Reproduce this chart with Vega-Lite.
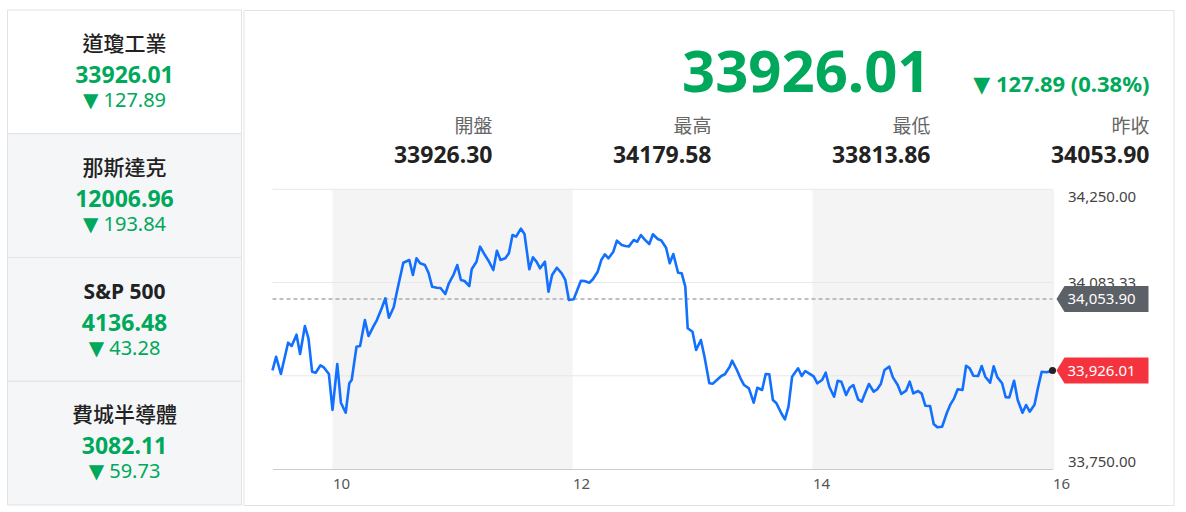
{
  "$schema": "https://vega.github.io/schema/vega-lite/v6.json",
  "padding": {"left": 6.5, "top": 9, "right": 0, "bottom": 0},
  "background": "#ffffff",
  "spacing": 0,
  "config": {"view": {"stroke": null}, "font": "Noto Sans"},
  "hconcat": [
    {
      "width": 234,
      "height": 495,
      "data": {"values": [
        {"name": "道瓊工業", "price": "33926.01", "change": "▼ 127.89"},
        {"name": "那斯達克", "price": "12006.96", "change": "▼ 193.84"},
        {"name": "S&P 500", "price": "4136.48", "change": "▼ 43.28"},
        {"name": "費城半導體", "price": "3082.11", "change": "▼ 59.73"}
      ]},
      "layer": [
        {
          "mark": {"type": "rect", "stroke": "#e1e3e6", "strokeWidth": 1},
          "encoding": {
            "y": {"field": "name", "type": "nominal", "scale": {"type": "band", "domain": ["道瓊工業", "那斯達克", "S&P 500", "費城半導體"], "paddingInner": 0, "paddingOuter": 0}, "axis": null},
            "x": {"datum": 0, "type": "quantitative", "scale": {"domain": [0, 1], "nice": false}, "axis": null},
            "x2": {"datum": 1},
            "fill": {"condition": {"test": "datum.name === '道瓊工業'", "value": "#ffffff"}, "value": "#f5f6f8"}
          }
        },
        {
          "transform": [{"filter": "datum.name !== 'S&P 500'"}],
          "mark": {"type": "text", "fontSize": 21, "fontWeight": 500, "color": "#222222", "baseline": "middle", "align": "center", "font": "'Noto Sans CJK TC'"},
          "encoding": {
            "y": {"field": "name", "type": "nominal", "bandPosition": 0.283, "scale": {"type": "band", "domain": ["道瓊工業", "那斯達克", "S&P 500", "費城半導體"], "paddingInner": 0, "paddingOuter": 0}, "axis": null},
            "x": {"datum": 0.5, "type": "quantitative"},
            "text": {"field": "name"}
          }
        },
        {
          "transform": [{"filter": "datum.name === 'S&P 500'"}],
          "mark": {"type": "text", "fontSize": 21, "fontWeight": "bold", "color": "#222222", "baseline": "middle", "align": "center"},
          "encoding": {
            "y": {"field": "name", "type": "nominal", "bandPosition": 0.283, "scale": {"type": "band", "domain": ["道瓊工業", "那斯達克", "S&P 500", "費城半導體"], "paddingInner": 0, "paddingOuter": 0}, "axis": null},
            "x": {"datum": 0.5, "type": "quantitative"},
            "text": {"field": "name"}
          }
        },
        {
          "mark": {"type": "text", "fontSize": 23, "fontWeight": "bold", "color": "#00a85b", "baseline": "alphabetic", "align": "center"},
          "encoding": {
            "y": {"field": "name", "type": "nominal", "bandPosition": 0.59, "scale": {"type": "band", "domain": ["道瓊工業", "那斯達克", "S&P 500", "費城半導體"], "paddingInner": 0, "paddingOuter": 0}, "axis": null},
            "x": {"datum": 0.5, "type": "quantitative"},
            "text": {"field": "price"}
          }
        },
        {
          "mark": {"type": "text", "fontSize": 20, "color": "#00a85b", "baseline": "alphabetic", "align": "center", "font": "'Noto Sans', 'DejaVu Sans'"},
          "encoding": {
            "y": {"field": "name", "type": "nominal", "bandPosition": 0.785, "scale": {"type": "band", "domain": ["道瓊工業", "那斯達克", "S&P 500", "費城半導體"], "paddingInner": 0, "paddingOuter": 0}, "axis": null},
            "x": {"datum": 0.5, "type": "quantitative"},
            "text": {"field": "change"}
          }
        }
      ]
    },
    {
      "width": 930,
      "height": 495,
      "view": {"stroke": "#e1e3e6"},
      "resolve": {"scale": {"x": "independent", "y": "independent"}},
      "layer": [
        {
          "layer": [
            {
              "data": {"values": [{"s": 10, "e": 12}, {"s": 14, "e": 16}]},
              "mark": {"type": "rect", "color": "#f4f4f4"},
              "encoding": {
                "x": {"field": "s", "type": "quantitative", "scale": {"domain": [9.5, 16], "range": [29, 809], "nice": false, "zero": false},
                  "axis": {"orient": "bottom", "offset": -36, "values": [10, 12, 14, 16], "format": "d", "labelAlign": "left", "labelBaseline": "top", "labelFontSize": 15, "labelColor": "#555555", "ticks": false, "labelPadding": 7, "domainColor": "#cccccc", "grid": false, "title": null, "labelFlush": false, "labelBound": false, "labelOverlap": false}},
                "x2": {"field": "e"},
                "y": {"datum": 33750, "type": "quantitative", "scale": {"domain": [33750, 34250], "range": [459, 179.3], "nice": false, "zero": false},
                  "axis": {"orient": "right", "offset": -121, "values": [33750, 33916.67, 34083.33, 34250], "format": ",.2f", "labelFlush": true, "ticks": false, "labelPadding": 15, "labelFontSize": 15, "labelColor": "#444444", "domainColor": "#e6e6e6", "grid": false, "title": null, "labelOverlap": false}},
                "y2": {"datum": 34250}
              }
            },
            {
              "data": {"values": [{"g": 34250}, {"g": 34083.33}, {"g": 33916.67}]},
              "mark": {"type": "rule", "color": "#e8e8e8", "strokeWidth": 1},
              "encoding": {
                "y": {"field": "g", "type": "quantitative"},
                "x": {"datum": 9.5, "type": "quantitative"},
                "x2": {"datum": 16}
              }
            },
            {
              "data": {"values": [{"prev": 34053.9}]},
              "mark": {"type": "rule", "color": "#aaaaaa", "strokeDash": [4, 3], "strokeWidth": 1.5},
              "encoding": {
                "y": {"field": "prev", "type": "quantitative"},
                "x": {"datum": 9.5, "type": "quantitative"},
                "x2": {"datum": 16}
              }
            },
            {
              "data": {"values": [
                {"t": 9.5, "v": 33926.3}, {"t": 9.53, "v": 33950.7}, {"t": 9.57, "v": 33919.8}, {"t": 9.63, "v": 33975.8}, {"t": 9.66, "v": 33969.9}, {"t": 9.7, "v": 33990.1}, {"t": 9.73, "v": 33955.6}, {"t": 9.77, "v": 34005.6}, {"t": 9.8, "v": 33982.9}, {"t": 9.83, "v": 33923.9}, {"t": 9.86, "v": 33922.1}, {"t": 9.9, "v": 33935.4}, {"t": 9.93, "v": 33931.1}, {"t": 9.97, "v": 33919.8},
                {"t": 10.0, "v": 33855.5}, {"t": 10.04, "v": 33937.7}, {"t": 10.07, "v": 33868.5}, {"t": 10.11, "v": 33850.6}, {"t": 10.14, "v": 33903.2}, {"t": 10.16, "v": 33909.1}, {"t": 10.2, "v": 33968.6}, {"t": 10.23, "v": 33969.9}, {"t": 10.27, "v": 34016.3}, {"t": 10.3, "v": 33987.7}, {"t": 10.34, "v": 34004.4}, {"t": 10.37, "v": 34016.3}, {"t": 10.41, "v": 34037.3}, {"t": 10.44, "v": 34055.1}, {"t": 10.47, "v": 34020.5}, {"t": 10.51, "v": 34039.1}, {"t": 10.54, "v": 34070.0}, {"t": 10.59, "v": 34118.8}, {"t": 10.64, "v": 34123.6}, {"t": 10.67, "v": 34096.8}, {"t": 10.7, "v": 34126.6}, {"t": 10.73, "v": 34117.7}, {"t": 10.77, "v": 34114.7}, {"t": 10.8, "v": 34100.9}, {"t": 10.83, "v": 34075.9}, {"t": 10.87, "v": 34074.1}, {"t": 10.9, "v": 34073.5}, {"t": 10.94, "v": 34062.8}, {"t": 10.97, "v": 34082.0},
                {"t": 11.01, "v": 34098.0}, {"t": 11.04, "v": 34114.7}, {"t": 11.07, "v": 34087.9}, {"t": 11.1, "v": 34086.1}, {"t": 11.14, "v": 34077.1}, {"t": 11.16, "v": 34107.0}, {"t": 11.2, "v": 34120.6}, {"t": 11.23, "v": 34147.4}, {"t": 11.27, "v": 34132.5}, {"t": 11.3, "v": 34122.4}, {"t": 11.34, "v": 34105.7}, {"t": 11.37, "v": 34140.2}, {"t": 11.4, "v": 34123.6}, {"t": 11.44, "v": 34126.6}, {"t": 11.47, "v": 34135.6}, {"t": 11.5, "v": 34168.3}, {"t": 11.53, "v": 34165.3}, {"t": 11.57, "v": 34179.6}, {"t": 11.6, "v": 34170.1}, {"t": 11.64, "v": 34107.0}, {"t": 11.67, "v": 34128.4}, {"t": 11.7, "v": 34120.6}, {"t": 11.73, "v": 34108.8}, {"t": 11.77, "v": 34120.6}, {"t": 11.8, "v": 34066.9}, {"t": 11.83, "v": 34096.8}, {"t": 11.87, "v": 34109.8}, {"t": 11.91, "v": 34099.8}, {"t": 11.94, "v": 34087.9}, {"t": 11.97, "v": 34052.1},
                {"t": 12.01, "v": 34053.4}, {"t": 12.04, "v": 34070.0}, {"t": 12.07, "v": 34086.6}, {"t": 12.1, "v": 34086.1}, {"t": 12.14, "v": 34083.0}, {"t": 12.17, "v": 34089.1}, {"t": 12.21, "v": 34102.7}, {"t": 12.24, "v": 34123.6}, {"t": 12.27, "v": 34133.8}, {"t": 12.3, "v": 34126.6}, {"t": 12.34, "v": 34138.4}, {"t": 12.37, "v": 34158.1}, {"t": 12.41, "v": 34150.4}, {"t": 12.44, "v": 34148.6}, {"t": 12.47, "v": 34148.0}, {"t": 12.51, "v": 34159.4}, {"t": 12.54, "v": 34156.3}, {"t": 12.57, "v": 34168.3}, {"t": 12.6, "v": 34160.6}, {"t": 12.64, "v": 34152.2}, {"t": 12.67, "v": 34169.6}, {"t": 12.71, "v": 34161.2}, {"t": 12.74, "v": 34158.6}, {"t": 12.78, "v": 34145.6}, {"t": 12.81, "v": 34117.7}, {"t": 12.84, "v": 34134.3}, {"t": 12.88, "v": 34100.9}, {"t": 12.91, "v": 34099.8}, {"t": 12.94, "v": 34075.9}, {"t": 12.96, "v": 34001.5},
                {"t": 13.0, "v": 33995.4}, {"t": 13.03, "v": 33962.7}, {"t": 13.07, "v": 33980.6}, {"t": 13.1, "v": 33950.7}, {"t": 13.14, "v": 33903.2}, {"t": 13.17, "v": 33902.6}, {"t": 13.21, "v": 33910.3}, {"t": 13.24, "v": 33916.2}, {"t": 13.27, "v": 33919.3}, {"t": 13.31, "v": 33932.9}, {"t": 13.33, "v": 33943.6}, {"t": 13.37, "v": 33927.0}, {"t": 13.4, "v": 33912.1}, {"t": 13.43, "v": 33900.1}, {"t": 13.47, "v": 33894.2}, {"t": 13.51, "v": 33868.5}, {"t": 13.54, "v": 33895.3}, {"t": 13.58, "v": 33891.2}, {"t": 13.61, "v": 33919.8}, {"t": 13.64, "v": 33919.2}, {"t": 13.67, "v": 33873.3}, {"t": 13.7, "v": 33867.4}, {"t": 13.74, "v": 33849.6}, {"t": 13.77, "v": 33838.8}, {"t": 13.8, "v": 33861.4}, {"t": 13.83, "v": 33915.0}, {"t": 13.88, "v": 33930.0}, {"t": 13.91, "v": 33916.2}, {"t": 13.94, "v": 33925.2}, {"t": 13.97, "v": 33921.1},
                {"t": 14.01, "v": 33915.5}, {"t": 14.04, "v": 33903.2}, {"t": 14.08, "v": 33909.1}, {"t": 14.11, "v": 33922.1}, {"t": 14.14, "v": 33897.1}, {"t": 14.18, "v": 33879.2}, {"t": 14.21, "v": 33907.8}, {"t": 14.24, "v": 33906.1}, {"t": 14.28, "v": 33882.3}, {"t": 14.31, "v": 33895.3}, {"t": 14.34, "v": 33900.1}, {"t": 14.38, "v": 33874.6}, {"t": 14.41, "v": 33870.3}, {"t": 14.44, "v": 33886.4}, {"t": 14.47, "v": 33901.9}, {"t": 14.51, "v": 33888.2}, {"t": 14.54, "v": 33892.5}, {"t": 14.57, "v": 33902.5}, {"t": 14.6, "v": 33927.0}, {"t": 14.64, "v": 33932.9}, {"t": 14.67, "v": 33913.9}, {"t": 14.71, "v": 33900.1}, {"t": 14.74, "v": 33884.1}, {"t": 14.78, "v": 33890.0}, {"t": 14.81, "v": 33906.1}, {"t": 14.84, "v": 33885.3}, {"t": 14.88, "v": 33889.5}, {"t": 14.91, "v": 33884.8}, {"t": 14.94, "v": 33863.1}, {"t": 14.98, "v": 33862.6},
                {"t": 15.01, "v": 33830.4}, {"t": 15.04, "v": 33824.5}, {"t": 15.08, "v": 33825.6}, {"t": 15.12, "v": 33850.6}, {"t": 15.15, "v": 33865.6}, {"t": 15.18, "v": 33876.4}, {"t": 15.21, "v": 33892.5}, {"t": 15.25, "v": 33891.2}, {"t": 15.28, "v": 33934.6}, {"t": 15.31, "v": 33930.0}, {"t": 15.34, "v": 33916.8}, {"t": 15.38, "v": 33916.3}, {"t": 15.41, "v": 33934.1}, {"t": 15.44, "v": 33915.0}, {"t": 15.48, "v": 33904.3}, {"t": 15.51, "v": 33933.5}, {"t": 15.54, "v": 33914.2}, {"t": 15.58, "v": 33903.2}, {"t": 15.61, "v": 33878.2}, {"t": 15.64, "v": 33878.0}, {"t": 15.68, "v": 33907.8}, {"t": 15.71, "v": 33873.3}, {"t": 15.75, "v": 33850.6}, {"t": 15.78, "v": 33864.4}, {"t": 15.81, "v": 33852.4}, {"t": 15.85, "v": 33865.0}, {"t": 15.88, "v": 33896.0}, {"t": 15.91, "v": 33923.9}, {"t": 15.95, "v": 33922.9}, {"t": 15.98, "v": 33924.5}, {"t": 16.0, "v": 33926.01}
              ]},
              "mark": {"type": "line", "color": "#1270ff", "strokeWidth": 2.6, "strokeJoin": "round"},
              "encoding": {
                "x": {"field": "t", "type": "quantitative"},
                "y": {"field": "v", "type": "quantitative"}
              }
            },
            {
              "data": {"values": [{"t": 16, "v": 33926.01}]},
              "mark": {"type": "point", "filled": true, "color": "#222222", "size": 50, "opacity": 1},
              "encoding": {
                "x": {"field": "t", "type": "quantitative"},
                "y": {"field": "v", "type": "quantitative"}
              }
            },
            {
              "data": {"values": [
                {"t": 16, "v": 34053.9, "label": "34,053.90", "kind": "prev"},
                {"t": 16, "v": 33926.01, "label": "33,926.01", "kind": "last"}
              ]},
              "layer": [
                {
                  "mark": {"type": "point", "filled": true, "opacity": 1, "size": 40000, "shape": "M0.04,0 L0.12,-0.13 L0.96,-0.13 L0.96,0.13 L0.12,0.13 Z"},
                  "encoding": {
                    "x": {"field": "t", "type": "quantitative"},
                    "y": {"field": "v", "type": "quantitative"},
                    "fill": {"condition": {"test": "datum.kind === 'prev'", "value": "#5c6167"}, "value": "#f5333f"}
                  }
                },
                {
                  "mark": {"type": "text", "align": "left", "baseline": "middle", "dx": 15, "fontSize": 15, "color": "#ffffff"},
                  "encoding": {
                    "x": {"field": "t", "type": "quantitative"},
                    "y": {"field": "v", "type": "quantitative"},
                    "text": {"field": "label"}
                  }
                }
              ]
            }
          ]
        },
        {
          "data": {"values": [
            {"label": "開盤", "value": "33926.30"},
            {"label": "最高", "value": "34179.58"},
            {"label": "最低", "value": "33813.86"},
            {"label": "昨收", "value": "34053.90"}
          ]},
          "layer": [
            {
              "mark": {"type": "text", "align": "right", "baseline": "alphabetic", "fontSize": 19, "color": "#666666", "font": "'Noto Sans CJK TC'", "dy": 5.5},
              "encoding": {
                "x": {"field": "label", "type": "nominal", "scale": {"type": "point", "domain": ["開盤", "最高", "最低", "昨收"], "range": [249, 906], "padding": 0}, "axis": null},
                "y": {"datum": "label", "type": "nominal", "scale": {"type": "point", "domain": ["price", "label", "value"], "range": [82, 153], "padding": 0}, "axis": null},
                "text": {"field": "label"}
              }
            },
            {
              "mark": {"type": "text", "align": "right", "baseline": "alphabetic", "fontSize": 23, "fontWeight": "bold", "color": "#222222"},
              "encoding": {
                "x": {"field": "label", "type": "nominal"},
                "y": {"datum": "value", "type": "nominal"},
                "text": {"field": "value"}
              }
            },
            {
              "data": {"values": [{"price": "33926.01", "chg": "▼ 127.89 (0.38%)"}]},
              "mark": {"type": "text", "align": "right", "baseline": "alphabetic", "fontSize": 58, "fontWeight": "bold", "color": "#00a85b"},
              "encoding": {
                "x": {"datum": "最低", "type": "nominal"},
                "y": {"datum": "price", "type": "nominal"},
                "text": {"field": "price"}
              }
            },
            {
              "data": {"values": [{"price": "33926.01", "chg": "▼ 127.89 (0.38%)"}]},
              "mark": {"type": "text", "align": "right", "baseline": "alphabetic", "fontSize": 22, "fontWeight": "bold", "color": "#00a85b", "font": "'Noto Sans', 'DejaVu Sans'"},
              "encoding": {
                "x": {"datum": "昨收", "type": "nominal"},
                "y": {"datum": "price", "type": "nominal"},
                "text": {"field": "chg"}
              }
            }
          ]
        }
      ]
    }
  ]
}
